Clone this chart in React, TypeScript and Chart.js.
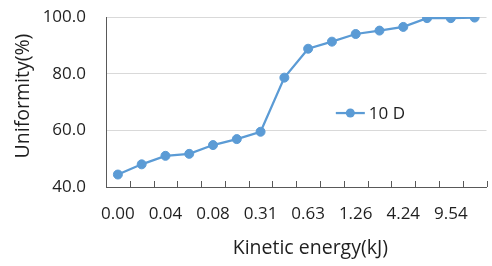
import { useEffect, useRef } from "react";
import { Chart, registerables } from "chart.js";

Chart.register(...registerables);

// Category labels (odd categories have no visible label in the reference)
const categories = ["0.00", "", "0.04", "", "0.08", "", "0.31", "", "0.63", "", "1.26", "", "4.24", "", "9.54", ""];
// Uniformity (%) of the "10 D" series
const uniformity = [44.4, 48.0, 51.0, 51.7, 54.8, 56.9, 59.5, 78.6, 88.8, 91.3, 94.0, 95.2, 96.5, 99.6, 99.6, 99.8];
const seriesLabel = "10 D";
const yMin = 40;
const yMax = 100;
const yStep = 20;
const xTitle = "Kinetic energy(kJ)";
const yTitle = "Uniformity(%)";

const FONT = '"Open Sans", "Liberation Sans", sans-serif';
const TEXT = "#1f1f1f";
const BLUE = "#5B9BD5";
const AXIS = "#595959";

const decorations = {
  id: "decorations",
  afterDraw(chart: any) {
    const { ctx, chartArea } = chart;
    const { left, right, bottom, top } = chartArea;
    const n = categories.length;
    ctx.save();
    // inside tick marks on the category axis
    ctx.strokeStyle = AXIS;
    ctx.lineWidth = 1;
    ctx.beginPath();
    for (let i = 0; i <= n; i++) {
      const x = Math.round(left + (i * (right - left)) / n) + 0.5;
      ctx.moveTo(x, bottom);
      ctx.lineTo(x, bottom - 6);
    }
    ctx.stroke();

    // axis titles
    ctx.fillStyle = TEXT;
    ctx.font = `19.5px ${FONT}`;
    ctx.textAlign = "center";
    ctx.textBaseline = "middle";
    ctx.fillText(xTitle, left + (right - left) * 0.537, 248);
    ctx.save();
    ctx.translate(23, top + (bottom - top) * 0.465);
    ctx.rotate(-Math.PI / 2);
    ctx.fillText(yTitle, 0, 0);
    ctx.restore();

    // legend inside the plot area
    const ds = chart.data.datasets[0];
    const lx = left + (right - left) * 0.604;
    const ly = top + (bottom - top) * 0.565;
    ctx.strokeStyle = ds.borderColor;
    ctx.lineWidth = ds.borderWidth;
    ctx.beginPath();
    ctx.moveTo(lx, ly);
    ctx.lineTo(lx + 29, ly);
    ctx.stroke();
    ctx.fillStyle = ds.pointBackgroundColor;
    ctx.beginPath();
    ctx.arc(lx + 14.5, ly, ds.pointRadius, 0, Math.PI * 2);
    ctx.fill();
    ctx.fillStyle = TEXT;
    ctx.font = `17px ${FONT}`;
    ctx.textAlign = "left";
    ctx.fillText(ds.label, lx + 33, ly + 1);
    ctx.restore();
  },
};

export default function App() {
  const ref = useRef<HTMLCanvasElement>(null);
  useEffect(() => {
    const chart = new Chart(ref.current!, {
      type: "line",
      data: {
        labels: categories,
        datasets: [
          {
            label: seriesLabel,
            data: uniformity,
            borderColor: BLUE,
            backgroundColor: BLUE,
            borderWidth: 2.25,
            pointRadius: 4.5,
            pointBackgroundColor: BLUE,
            pointBorderColor: BLUE,
            pointBorderWidth: 1,
            tension: 0,
          },
        ],
      },
      options: {
        responsive: false,
        animation: false,
        events: [],
        layout: { padding: { top: 17, right: 3, left: 0, bottom: 0 } },
        plugins: { legend: { display: false }, tooltip: { enabled: false } },
        scales: {
          x: {
            type: "category",
            offset: true,
            grid: { display: false },
            border: { display: true, color: AXIS, width: 1 },
            ticks: {
              autoSkip: false,
              maxRotation: 0,
              minRotation: 0,
              padding: 9,
              color: TEXT,
              font: { family: FONT, size: 17 },
            },
            afterFit: (s: any) => {
              s.height = 79;
            },
          },
          y: {
            min: yMin,
            max: yMax,
            grid: {
              color: "#d9d9d9",
              lineWidth: 1,
              drawTicks: true,
              tickLength: 20,
              tickColor: "rgba(0,0,0,0)",
            },
            border: { display: true, color: AXIS, width: 1 },
            ticks: {
              stepSize: yStep,
              padding: 0,
              color: TEXT,
              font: { family: FONT, size: 17 },
              callback: (v: any) => Number(v).toFixed(1),
            },
            afterFit: (s: any) => {
              s.width = 106;
            },
          },
        },
      },
      plugins: [decorations],
    });
    return () => chart.destroy();
  }, []);
  return (
    <div style={{ position: "fixed", left: 0, top: 0, width: 492, height: 266, background: "#fff" }}>
      <canvas ref={ref} width={492} height={266} style={{ display: "block" }} />
    </div>
  );
}
